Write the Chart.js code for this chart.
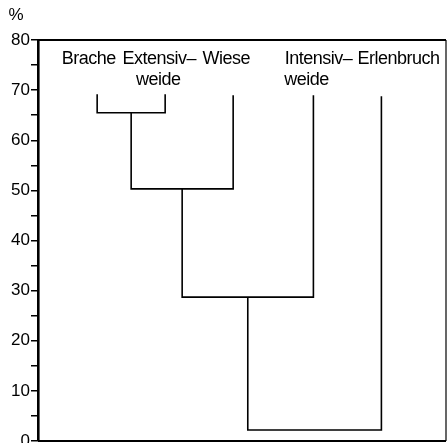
<!DOCTYPE html>
<html>
<head>
<meta charset="utf-8">
<script src="https://cdn.jsdelivr.net/npm/chart.js@4/dist/chart.umd.min.js"></script>
<style>
  html, body { margin: 0; padding: 0; background: #fff; }
  #wrap { width: 447px; height: 443px; }
</style>
</head>
<body>
<div id="wrap"><canvas id="dendro"></canvas></div>
<script>
// Leaves of the dendrogram (left to right) and their positions on the x scale
const leafNames = ['Brache', 'Extensiv–\nweide', 'Wiese', 'Intensiv–\nweide', 'Erlenbruch'];
const leafX = [0.87, 1.87, 2.87, 4.05, 5.05];
const leafTop = [69.2, 69.2, 69, 69, 68.8];

// Merges: [left cluster, right cluster, height in %]; clusters >= 5 are earlier merges
const mergeLeft = [0, 5, 6, 7];
const mergeRight = [1, 2, 3, 4];
const mergeHeight = [65.5, 50.3, 28.7, 2.2];

const yTicks = [0, 10, 20, 30, 40, 50, 60, 70, 80];

// build the U-shaped links from the merge table
const nodeX = leafX.slice();
const nodeH = leafTop.slice();
const datasets = [];
mergeHeight.forEach((h, i) => {
    const a = mergeLeft[i], b = mergeRight[i];
    datasets.push({
        data: [
            { x: nodeX[a], y: nodeH[a] },
            { x: nodeX[a], y: h },
            { x: nodeX[b], y: h },
            { x: nodeX[b], y: nodeH[b] }
        ],
        borderColor: '#000',
        borderWidth: 1.6,
        pointRadius: 0,
        showLine: true,
        tension: 0
    });
    nodeX.push((nodeX[a] + nodeX[b]) / 2);
    nodeH.push(h);
});

const FONT = '"Liberation Sans", Arial, Helvetica, sans-serif';

// frame, "%" and leaf labels
const decor = {
    id: 'decor',
    afterDraw(chart) {
        const { ctx, chartArea: a, scales } = chart;
        ctx.save();
        ctx.strokeStyle = '#000';
        ctx.lineWidth = 2.2;
        ctx.beginPath();
        ctx.moveTo(a.left, a.top); ctx.lineTo(a.right, a.top);
        ctx.moveTo(a.left, a.bottom); ctx.lineTo(a.right, a.bottom);
        ctx.stroke();
        ctx.lineWidth = 1.2;
        ctx.beginPath();
        ctx.moveTo(a.right, a.top); ctx.lineTo(a.right, a.bottom);
        ctx.stroke();

        ctx.fillStyle = '#000';
        ctx.font = '17px ' + FONT;
        ctx.textAlign = 'center';
        ctx.textBaseline = 'middle';
        ctx.fillText('%', 16, 15);

        // small shifts so neighbouring names do not collide
        ctx.font = '18px ' + FONT;
        ctx.letterSpacing = '-0.5px';
        const shift = [[-8.5], [-6, -7], [-7], [5, -7], [17]];
        leafNames.forEach((name, i) => {
            const cx = scales.x.getPixelForValue(leafX[i]);
            name.split('\n').forEach((line, j) => {
                ctx.fillText(line, cx + shift[i][j], a.top + 19 + j * 21);
            });
        });
        ctx.restore();
    }
};

new Chart(document.getElementById('dendro'), {
    type: 'scatter',
    data: { datasets: datasets },
    options: {
        responsive: true,
        maintainAspectRatio: false,
        animation: false,
        layout: { padding: { top: 40, right: 1, bottom: 2, left: 0 } },
        plugins: { legend: { display: false }, tooltip: { enabled: false } },
        scales: {
            x: { type: 'linear', min: 0, max: 6, display: false },
            y: {
                min: 0,
                max: 80,
                ticks: {
                    stepSize: 5,
                    autoSkip: false,
                    color: '#000',
                    padding: 1,
                    font: { size: 17, family: FONT },
                    callback: v => yTicks.includes(v) ? String(v) : ''
                },
                grid: { drawOnChartArea: false, drawTicks: true, tickLength: 7, color: '#000', lineWidth: 1.5 },
                border: { color: '#000', width: 2.6 },
                afterFit(s) {
                    s.width = 38;
                    s.paddingTop = 0;
                    s.paddingBottom = 0;
                }
            }
        }
    },
    plugins: [decor]
});
</script>
</body>
</html>
